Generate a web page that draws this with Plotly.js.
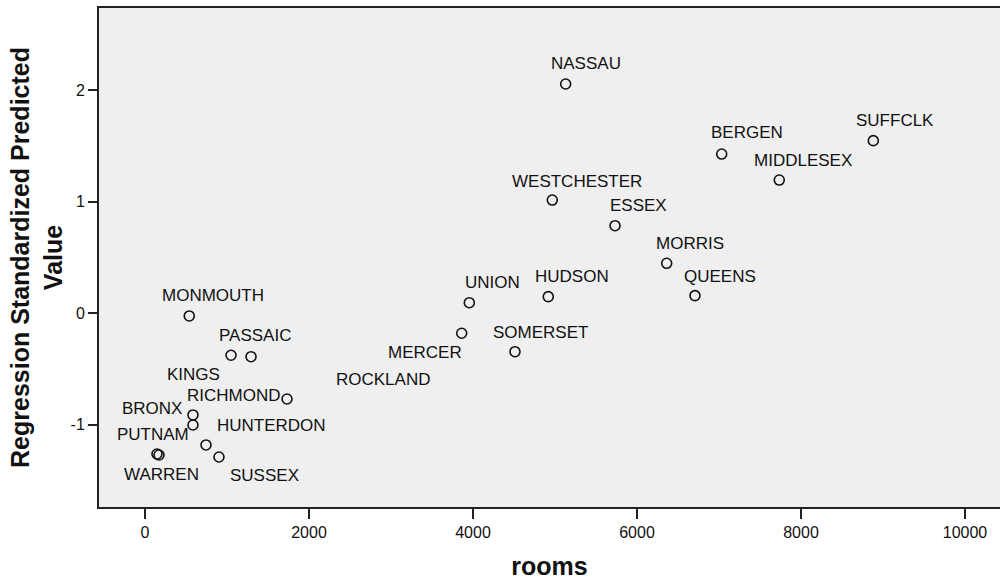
<!DOCTYPE html>
<html>
<head>
<meta charset="utf-8">
<script src="https://cdn.plot.ly/plotly-3.0.1.min.js"></script>
<style>html,body{margin:0;padding:0;background:#fff;overflow:hidden;}#chart{width:1000px;height:580px;}</style>
</head>
<body>
<div id="chart"></div>
<script>
// Data
const counties = ["NASSAU","SUFFCLK","BERGEN","MIDDLESEX","WESTCHESTER","ESSEX","MORRIS","QUEENS","HUDSON","UNION","MONMOUTH","MERCER","SOMERSET","KINGS","PASSAIC","RICHMOND","BRONX","PUTNAM","HUNTERDON","SUSSEX","WARREN","ROCKLAND"];
const rooms = [5130,8882,7033,7735,4967,5732,6362,6707,4918,3955,540,3862,4512,1049,1293,1732,585,585,744,902,146,171];
const predicted = [2.055,1.547,1.427,1.194,1.015,0.785,0.448,0.158,0.149,0.095,-0.024,-0.179,-0.344,-0.376,-0.389,-0.768,-0.911,-1.001,-1.180,-1.288,-1.261,-1.270];
const xTickVals = [0,2000,4000,6000,8000,10000];
const xTickText = ["0","2000","4000","6000","8000","10000"];
const yTickVals = [-1,0,1,2];
const yTickText = ["-1","0","1","2"];

// Label placement offsets in pixels (style, not data)
const labelDx = [20,22,25,24,25,23,23,25,24,23,24,-37,26,-38,4,-53,-41,-40,65,46,5,224];
const labelDy = [-20,-20,-22,-20,-19,-20,-20,-19,-20,-20,-20,19,-19,19,-21,-3,-6,10,-19,18,20,-76];

const trace = {
  type: "scatter", mode: "markers",
  x: rooms, y: predicted, text: counties,
  marker: {symbol: "circle-open", size: 10, color: "#111", line: {width: 1.6, color: "#111"}},
  hoverinfo: "text+x+y"
};

const annotations = counties.map((c, i) => ({
  x: rooms[i], y: predicted[i], xref: "x", yref: "y",
  text: c, showarrow: false,
  xshift: labelDx[i], yshift: -labelDy[i],
  xanchor: "center", yanchor: "middle",
  font: {family: "Liberation Sans, Arial, sans-serif", size: 17, color: "#111"}
}));

const layout = {
  width: 1000, height: 580,
  margin: {l: 99, r: 0, t: 8, b: 73},
  paper_bgcolor: "#ffffff", plot_bgcolor: "#efefef",
  showlegend: false,
  font: {family: "Liberation Sans, Arial, sans-serif", color: "#111"},
  xaxis: {
    range: [-561, 10427], tickvals: xTickVals, ticktext: xTickText,
    showgrid: false, zeroline: false,
    showline: true, linecolor: "#222", linewidth: 2, mirror: true,
    ticks: "outside", ticklen: 10, tickwidth: 2, tickcolor: "#222",
    tickfont: {size: 16, color: "#111"},
    title: {text: "rooms", font: {size: 25, family: "Liberation Sans, Arial, sans-serif", weight: "bold", color: "#111"}, standoff: 17}
  },
  yaxis: {
    range: [-1.736, 2.736], tickvals: yTickVals, ticktext: yTickText,
    showgrid: false, zeroline: false,
    showline: true, linecolor: "#222", linewidth: 2,
    ticks: "outside", ticklen: 9, tickwidth: 2, tickcolor: "#222",
    tickfont: {size: 16, color: "#111"},
    title: {text: "Regression Standardized Predicted<br>Value", font: {size: 25, family: "Liberation Sans, Arial, sans-serif", weight: "bold", color: "#111"}, standoff: 1}
  },
  annotations: annotations
};

Plotly.newPlot("chart", [trace], layout, {displayModeBar: false, staticPlot: true});
</script>
</body>
</html>
